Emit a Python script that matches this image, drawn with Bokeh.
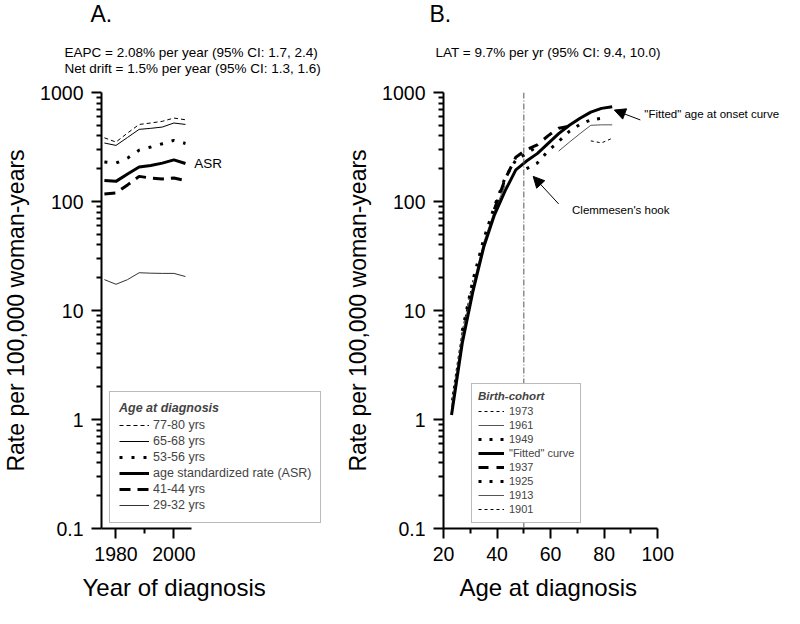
from bokeh.plotting import figure
from bokeh.models import (Range1d, FixedTicker, CustomJSTickFormatter, Legend, LegendItem,
                          Label, Arrow, NormalHead, Span)
from bokeh.layouts import row, column
from bokeh.embed import file_html
from bokeh.resources import INLINE

FONT = "Liberation Sans"

# ---------------- Panel A: rates by year of diagnosis ----------------
years = [1976, 1980, 1984, 1988, 1992, 1996, 2000, 2004]
rate_77_80 = [384, 351, 425, 509, 525, 544, 583, 562]
rate_65_68 = [344, 327, 387, 459, 469, 482, 525, 509]
rate_53_56 = [230, 225, 250, 296, 316, 339, 364, 341]
rate_asr = [156, 153, 179, 207, 214, 225, 241, 223]
rate_41_44 = [117, 120, 142, 170, 164, 161, 164, 156]
rate_29_32 = [19.2, 17.4, 19.2, 22.2, 22.0, 21.9, 21.9, 20.5]

# ---------------- Panel B: rates by age, per birth cohort ----------------
fitted_age = [23, 27, 31, 35, 39, 43, 47, 51, 55, 59, 63, 67, 71, 75, 79, 83]
fitted_rate = [1.1, 5.0, 15, 38, 75, 125, 195, 235, 275, 340, 420, 500, 580, 660, 715, 740]
c1973_age = [23, 27, 31]
c1973_rate = [1.5, 6.5, 19]
c1961_age = [23, 27, 31, 35, 39, 43]
c1961_rate = [1.3, 6.0, 17, 42, 82, 140]
c1949_age = [27, 31, 35, 39, 43, 47, 51, 55]
c1949_rate = [6.5, 19, 45, 90, 165, 240, 275, 320]
c1937_age = [39, 43, 47, 51, 55, 59, 63, 67]
c1937_rate = [85, 160, 255, 300, 330, 400, 470, 490]
c1925_age = [51, 55, 59, 63, 67, 71, 75, 79]
c1925_rate = [200, 225, 290, 355, 440, 510, 560, 580]
c1913_age = [63, 67, 71, 75, 79, 83]
c1913_rate = [290, 350, 420, 500, 505, 505]
c1901_age = [75, 79, 83]
c1901_rate = [360, 345, 380]
hook_age = 50

y_major = [0.1, 1, 10, 100, 1000]
y_minor = [m * 10 ** e for e in range(-1, 3) for m in range(2, 10)]

# ---------------- layout geometry ----------------
HDR_H = 80          # header strip: panel letters / statistics
FTR_H = 38          # footer strip: x-axis titles
PANEL_H = 490
MB_TOP, MB_BOTTOM = 12, 42
A_W, B_W = 342, 442
MB_LEFT = 95
A_AXIS_W, B_AXIS_W = 92, 218     # pixel length of the drawn x axes
A_X0, A_X1 = 1975, 2006
B_X0, B_X1 = 20, 100
A_XEND = A_X0 + (A_X1 - A_X0) * (A_W - MB_LEFT) / A_AXIS_W
B_XEND = B_X0 + (B_X1 - B_X0) * (B_W - MB_LEFT) / B_AXIS_W


# page-pixel -> data helpers (for decorations placed by eye)
def ax_(px):
    return A_X0 + (px - 103) / A_AXIS_W * (A_X1 - A_X0)


def bx_(px):
    return B_X0 + (px - 445) / B_AXIS_W * (B_X1 - B_X0)


def yy_(py):
    return 10 ** (3 - (py - 100) / 109)


def make_fig(width, x0, xend, bounds, xticks, xminor):
    p = figure(width=width, height=PANEL_H, x_range=Range1d(x0, xend), y_range=Range1d(0.1, 1000),
               y_axis_type="log", output_backend="svg", toolbar_location=None,
               min_border_left=MB_LEFT, min_border_right=0, min_border_top=MB_TOP,
               min_border_bottom=MB_BOTTOM)
    p.outline_line_color = None
    p.grid.visible = False
    p.background_fill_color = "white"
    p.border_fill_color = "white"
    p.xaxis.bounds = bounds
    p.xaxis.ticker = FixedTicker(ticks=xticks, minor_ticks=xminor)
    p.yaxis.ticker = FixedTicker(ticks=y_major, minor_ticks=y_minor)
    p.yaxis.formatter = CustomJSTickFormatter(code="return String(tick)")
    for a in p.axis:
        a.axis_line_width = 2
        a.axis_line_color = "black"
        a.major_tick_line_width = 2
        a.minor_tick_line_width = 2
        a.major_tick_out = 10
        a.major_tick_in = 0
        a.minor_tick_out = 5
        a.minor_tick_in = 0
        a.major_label_text_font = FONT
        a.major_label_text_font_size = "19.5px"
        a.major_label_text_color = "black"
        a.major_label_standoff = 8
        a.axis_label_text_font = FONT
        a.axis_label_text_font_size = "23px"
        a.axis_label_text_font_style = "normal"
        a.axis_label_text_color = "black"
        a.axis_label_standoff = 8
    p.yaxis.axis_label = "Rate per 100,000 woman-years"
    return p


def txt(p, x, y, s, size, style="normal"):
    p.add_layout(Label(x=x, y=y, text=s, text_font=FONT, text_font_size=size,
                       text_font_style=style, text_baseline="middle", text_align="left",
                       text_color="black"))


def underline(p, x0, x1, y):
    p.add_layout(Arrow(end=None, x_start=x0, y_start=y, x_end=x1, y_end=y,
                       line_color="black", line_width=1))


def strip(height):
    s = figure(width=A_W + B_W, height=height, x_range=Range1d(0, A_W + B_W),
               y_range=Range1d(height, 0), output_backend="svg", toolbar_location=None,
               min_border=0, x_axis_location=None, y_axis_location=None)
    s.outline_line_color = None
    s.grid.visible = False
    return s


# ---------------- header strip ----------------
hdr = strip(HDR_H)
txt(hdr, 90, 13, "A.", "23px")
txt(hdr, 64, 52, "EAPC = 2.08% per year (95% CI: 1.7, 2.4)", "13.5px")
txt(hdr, 64, 68, "Net drift = 1.5% per year (95% CI: 1.3, 1.6)", "13.5px")
txt(hdr, 429, 13, "B.", "23px")
txt(hdr, 435, 52, "LAT = 9.7% per yr (95% CI: 9.4, 10.0)", "13.5px")

# ---------------- footer strip (x-axis titles) ----------------
ftr = strip(FTR_H)
txt(ftr, 82, 17, "Year of diagnosis", "24px")
txt(ftr, 459, 17, "Age at diagnosis", "24px")

# ---------------- Figure A ----------------
pA = make_fig(A_W, A_X0, A_XEND, (A_X0, A_X1), [1980, 2000], [1990])

rA1 = pA.line(years, rate_77_80, line_color="black", line_width=1, line_dash="4 3")
rA2 = pA.line(years, rate_65_68, line_color="black", line_width=1)
rA3 = pA.line(years, rate_53_56, line_color="black", line_width=3, line_dash="3 9")
rA4 = pA.line(years, rate_asr, line_color="black", line_width=3)
rA5 = pA.line(years, rate_41_44, line_color="black", line_width=3, line_dash="11 7")
rA6 = pA.line(years, rate_29_32, line_color="#333333", line_width=1)

legA = Legend(items=[LegendItem(label="77-80 yrs", renderers=[rA1]),
                     LegendItem(label="65-68 yrs", renderers=[rA2]),
                     LegendItem(label="53-56 yrs", renderers=[rA3]),
                     LegendItem(label="age standardized rate (ASR)", renderers=[rA4]),
                     LegendItem(label="41-44 yrs", renderers=[rA5]),
                     LegendItem(label="29-32 yrs", renderers=[rA6])],
              location=(8, 5), title="Age at diagnosis",
              title_text_font=FONT, title_text_font_style="bold italic",
              title_text_font_size="12.5px", title_standoff=2,
              label_text_font=FONT, label_text_font_size="12.5px",
              glyph_width=30, glyph_height=16, label_height=16, spacing=0,
              label_standoff=4, padding=9, margin=0,
              border_line_color="#777777", border_line_width=1,
              background_fill_color="white", background_fill_alpha=1)
pA.add_layout(legA, "center")
underline(pA, ax_(121), ax_(221), yy_(423))
txt(pA, ax_(198), yy_(171), "ASR", "13.5px")

# ---------------- Figure B ----------------
pB = make_fig(B_W, B_X0, B_XEND, (B_X0, B_X1), [20, 40, 60, 80, 100], [30, 50, 70, 90])

pB.add_layout(Span(location=hook_age, dimension="height", line_color="#555555", line_width=1,
                   line_dash="6 2 1 2"))

rB1 = pB.line(c1973_age, c1973_rate, line_color="black", line_width=1, line_dash="3 3")
rB2 = pB.line(c1961_age, c1961_rate, line_color="#555555", line_width=1)
rB3 = pB.line(c1949_age, c1949_rate, line_color="black", line_width=3, line_dash="3 8")
rB4 = pB.line(fitted_age, fitted_rate, line_color="black", line_width=3)
rB5 = pB.line(c1937_age, c1937_rate, line_color="black", line_width=3, line_dash="10 8")
rB6 = pB.line(c1925_age, c1925_rate, line_color="black", line_width=3, line_dash="3 8")
rB7 = pB.line(c1913_age, c1913_rate, line_color="#555555", line_width=1)
rB8 = pB.line(c1901_age, c1901_rate, line_color="black", line_width=1, line_dash="3 3")

legB = Legend(items=[LegendItem(label="1973", renderers=[rB1]),
                     LegendItem(label="1961", renderers=[rB2]),
                     LegendItem(label="1949", renderers=[rB3]),
                     LegendItem(label='"Fitted" curve', renderers=[rB4]),
                     LegendItem(label="1937", renderers=[rB5]),
                     LegendItem(label="1925", renderers=[rB6]),
                     LegendItem(label="1913", renderers=[rB7]),
                     LegendItem(label="1901", renderers=[rB8])],
              location=(28, 5), title="Birth-cohort",
              title_text_font=FONT, title_text_font_style="bold italic",
              title_text_font_size="11.5px", title_standoff=2,
              label_text_font=FONT, label_text_font_size="11px",
              glyph_width=26, glyph_height=14, label_height=14, spacing=0,
              label_standoff=5, padding=6, margin=0,
              border_line_color="#777777", border_line_width=1,
              background_fill_color="white", background_fill_alpha=1)
pB.add_layout(legB, "center")
underline(pB, bx_(480), bx_(546), yy_(410.5))

pB.add_layout(Arrow(end=NormalHead(size=11, fill_color="black", line_color="black"),
                    x_start=63, y_start=95, x_end=53.5, y_end=170,
                    line_color="black", line_width=1))
pB.add_layout(Arrow(end=NormalHead(size=11, fill_color="black", line_color="black"),
                    x_start=93.5, y_start=560, x_end=83.8, y_end=690,
                    line_color="black", line_width=1))
txt(pB, 68, 83, "Clemmesen's hook", "11.5px")
txt(pB, 95, 630, '"Fitted" age at onset curve', "11.5px")

layout = column(hdr, row(pA, pB), ftr)
open("out.html", "w").write(file_html(layout, INLINE))
